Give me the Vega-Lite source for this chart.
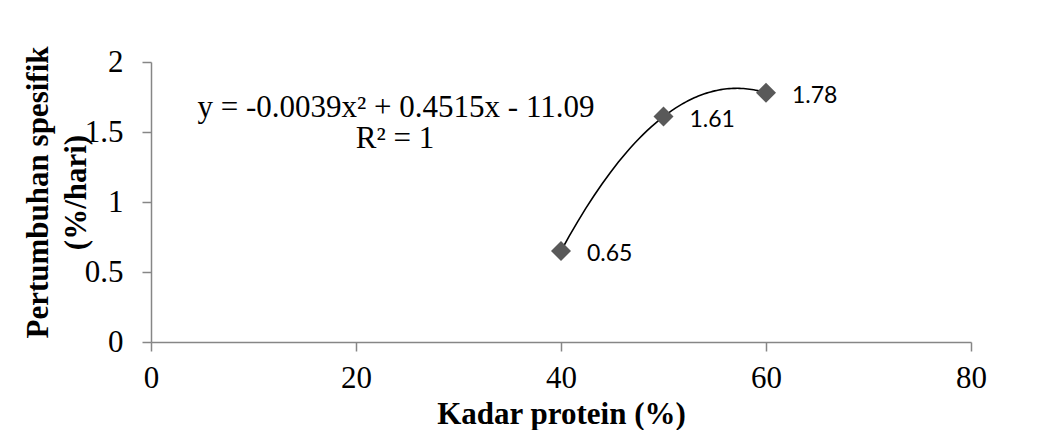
{
  "$schema": "https://vega.github.io/schema/vega-lite/v6.json",
  "width": 820,
  "height": 280,
  "autosize": "none",
  "padding": {"left": 151, "top": 62, "right": 80, "bottom": 88},
  "background": "white",
  "config": {"view": {"stroke": null}, "font": "Liberation Serif"},
  "datasets": {
    "points": [
      {"protein": 40, "growth": 0.65},
      {"protein": 50, "growth": 1.61},
      {"protein": 60, "growth": 1.78}
    ],
    "equation": [{"line1": "y = -0.0039x² + 0.4515x - 11.09", "line2": "R² = 1"}]
  },
  "layer": [
    {
      "data": {"name": "points"},
      "transform": [{"regression": "growth", "on": "protein", "method": "poly", "order": 2}],
      "mark": {"type": "line", "color": "black", "strokeWidth": 1.6},
      "encoding": {
        "x": {
          "field": "protein", "type": "quantitative",
          "scale": {"domain": [0, 80], "nice": false, "zero": false},
          "axis": {
            "values": [0, 20, 40, 60, 80], "grid": false, "labelFlush": false,
            "domainColor": "#868686", "tickColor": "#868686", "domainWidth": 1.5, "tickWidth": 1.5, "tickSize": 9,
            "labelFont": "Liberation Serif", "labelFontSize": 31, "labelColor": "black", "labelPadding": 12,
            "title": "Kadar protein (%)", "titleFont": "Liberation Serif", "titleFontSize": 31, "titleFontWeight": "bold",
            "titleColor": "black", "titleBaseline": "alphabetic", "titleY": 81
          }
        },
        "y": {
          "field": "growth", "type": "quantitative",
          "scale": {"domain": [0, 2], "nice": false},
          "axis": {
            "values": [0, 0.5, 1, 1.5, 2], "format": "~g", "grid": false, "labelFlush": false,
            "domainColor": "#868686", "tickColor": "#868686", "domainWidth": 1.5, "tickWidth": 1.5, "tickSize": 9,
            "labelFont": "Liberation Serif", "labelFontSize": 31, "labelColor": "black", "labelPadding": 19,
            "title": ["Pertumbuhan spesifik", "(%/hari)"], "titleFont": "Liberation Serif", "titleFontSize": 31,
            "titleFontWeight": "bold", "titleColor": "black", "titleBaseline": "alphabetic", "titleAlign": "center",
            "titleAngle": -90, "titleX": -104, "titleY": 130, "titleLineHeight": 38
          }
        }
      }
    },
    {
      "data": {"name": "points"},
      "mark": {"type": "point", "shape": "diamond", "filled": true, "color": "#595959", "size": 400, "opacity": 1},
      "encoding": {
        "x": {"field": "protein", "type": "quantitative"},
        "y": {"field": "growth", "type": "quantitative"}
      }
    },
    {
      "data": {"name": "points"},
      "mark": {"type": "text", "font": "Lato", "fontSize": 23, "align": "left", "baseline": "middle", "dx": 26, "dy": 3, "color": "black"},
      "encoding": {
        "x": {"field": "protein", "type": "quantitative"},
        "y": {"field": "growth", "type": "quantitative"},
        "text": {"field": "growth", "type": "quantitative", "format": ".2f"}
      }
    },
    {
      "data": {"name": "equation"},
      "mark": {"type": "text", "font": "Liberation Serif", "fontSize": 31, "align": "center", "baseline": "alphabetic", "color": "black"},
      "encoding": {
        "x": {"datum": 23.9, "type": "quantitative"},
        "y": {"datum": 1.607, "type": "quantitative"},
        "text": {"field": "line1", "type": "nominal"}
      }
    },
    {
      "data": {"name": "equation"},
      "mark": {"type": "text", "font": "Liberation Serif", "fontSize": 31, "align": "center", "baseline": "alphabetic", "color": "black"},
      "encoding": {
        "x": {"datum": 23.8, "type": "quantitative"},
        "y": {"datum": 1.386, "type": "quantitative"},
        "text": {"field": "line2", "type": "nominal"}
      }
    }
  ]
}
